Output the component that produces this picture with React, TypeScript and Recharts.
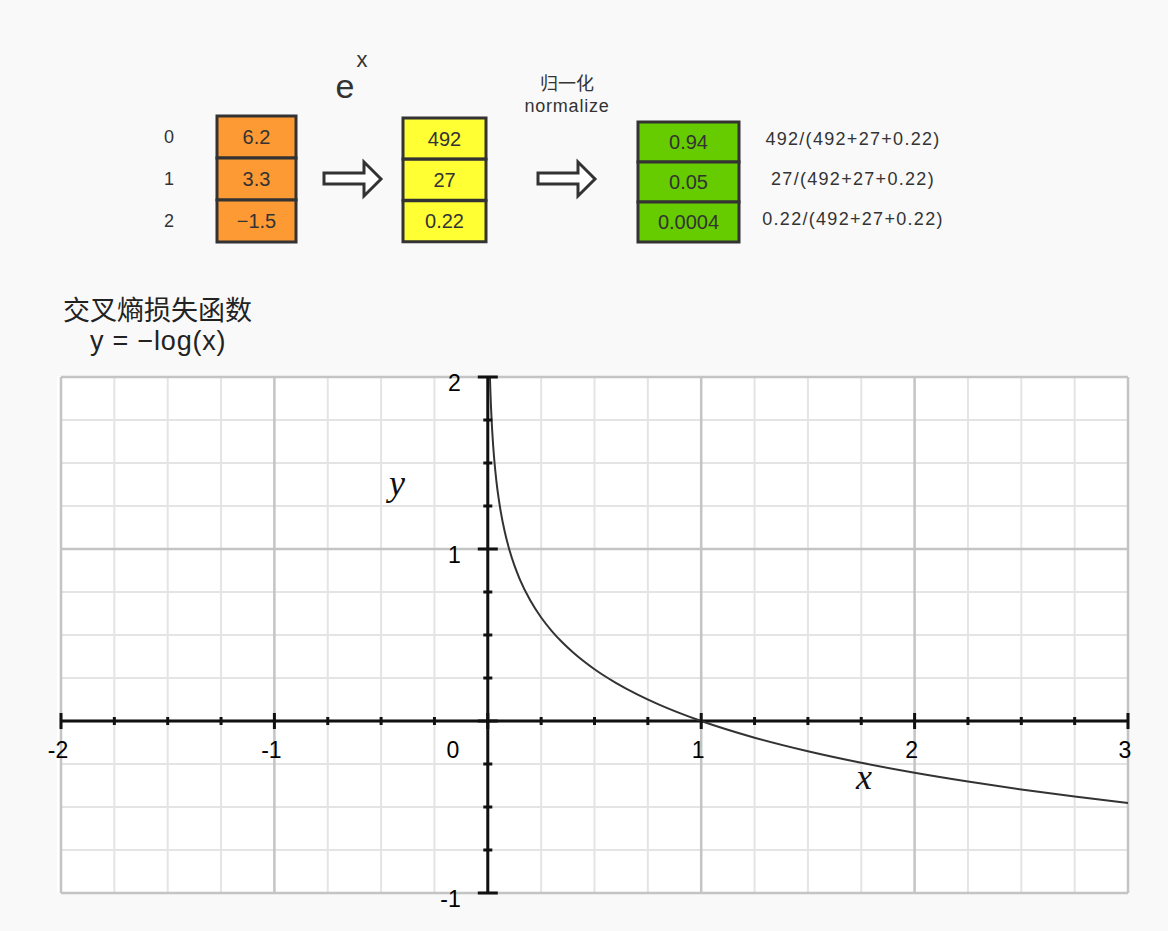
import type { CSSProperties } from "react";
import {
  BarChart,
  Bar,
  XAxis,
  YAxis,
  LabelList,
  ComposedChart,
  Line,
  Scatter,
  ReferenceLine,
} from "recharts";

// softmax illustration
const rowNames = ["0", "1", "2"];
const logits = ["6.2", "3.3", "−1.5"];
const exps = ["492", "27", "0.22"];
const probs = ["0.94", "0.05", "0.0004"];
const formulas = ["492/(492+27+0.22)", "27/(492+27+0.22)", "0.22/(492+27+0.22)"];

// y = -log(x)
const curveX = [0.01, 0.012, 0.015, 0.02, 0.025, 0.03, 0.04, 0.05, 0.06, 0.08, 0.1, 0.125, 0.15, 0.2, 0.25, 0.3, 0.35, 0.4, 0.5, 0.6, 0.7, 0.8, 0.9, 1, 1.25, 1.5, 1.75, 2, 2.25, 2.5, 2.75, 3];
const curveY = [2, 1.921, 1.824, 1.699, 1.602, 1.523, 1.398, 1.301, 1.222, 1.097, 1, 0.903, 0.824, 0.699, 0.602, 0.523, 0.456, 0.398, 0.301, 0.222, 0.155, 0.097, 0.046, 0, -0.097, -0.176, -0.243, -0.301, -0.352, -0.398, -0.439, -0.477];

const gridX = [-2, -1.75, -1.5, -1.25, -1, -0.75, -0.5, -0.25, 0, 0.25, 0.5, 0.75, 1, 1.25, 1.5, 1.75, 2, 2.25, 2.5, 2.75, 3];
const gridY = [-1, -0.75, -0.5, -0.25, 0, 0.25, 0.5, 0.75, 1, 1.25, 1.5, 1.75, 2];
const xTickLabels = ["-2", "-1", "0", "1", "2", "3"];
const xTickValues = [-2, -1, 0, 1, 2, 3];
const yTickLabels = ["2", "1", "-1"];
const yTickValues = [2, 1, -1];

const SANS = '"Liberation Sans", Arial, sans-serif';
const CJK = '"Noto Sans CJK SC", "Noto Sans", sans-serif';
const SERIF = '"Liberation Serif", "DejaVu Serif", serif';

const isMajor = (v: number) => Number.isInteger(v);

function Txt({ x, y, size, children, style }: { x: number; y: number; size: number; children: string; style?: CSSProperties }) {
  return (
    <div
      style={{
        position: "absolute",
        left: x,
        top: y,
        transform: "translate(-50%, -50%)",
        fontSize: size,
        lineHeight: 1,
        whiteSpace: "nowrap",
        color: "#333",
        fontFamily: SANS,
        ...style,
      }}
    >
      {children}
    </div>
  );
}

type ColumnProps = {
  left: number;
  top: number;
  w: number;
  h: number;
  fill: string;
  values: string[];
  names?: string[];
  notes?: string[];
};

function CellColumn({ left, top, w, h, fill, values, names, notes }: ColumnProps) {
  const pad = 3;
  const leftW = names ? 60 : 0;
  const rightW = notes ? 230 : 0;
  const data = values.map((v, i) => ({ row: String(i), one: 1, text: v }));
  const chartLeft = left - pad - leftW;
  return (
    <div style={{ position: "absolute", left: chartLeft, top: top - pad }}>
      <BarChart
        layout="vertical"
        width={w + 2 * pad + leftW + rightW}
        height={h + 2 * pad}
        data={data}
        margin={{ top: pad, bottom: pad, left: pad, right: pad }}
        barCategoryGap={0}
      >
        <XAxis type="number" domain={[0, 1]} hide />
        <YAxis
          yAxisId="l"
          type="category"
          dataKey="row"
          hide={!names}
          width={leftW}
          axisLine={false}
          tickLine={false}
          tick={(p: any) => (
            <text x={169 - chartLeft} y={p.y + 1} textAnchor="middle" dominantBaseline="middle" fontSize={18} fill="#333" fontFamily={SANS}>
              {names ? names[p.index] : ""}
            </text>
          )}
        />
        <YAxis
          yAxisId="r"
          orientation="right"
          type="category"
          dataKey="row"
          hide={!notes}
          width={rightW}
          axisLine={false}
          tickLine={false}
          tick={(p: any) => (
            <text x={853 - chartLeft} y={p.y - 2} textAnchor="middle" dominantBaseline="middle" fontSize={18} letterSpacing={1.3} fill="#333" fontFamily={SANS}>
              {notes ? notes[p.index] : ""}
            </text>
          )}
        />
        <Bar yAxisId="l" dataKey="one" fill={fill} stroke="#333" strokeWidth={3} isAnimationActive={false}>
          <LabelList dataKey="text" position="center" fill="#333" fontSize={20} fontFamily={SANS} />
        </Bar>
      </BarChart>
    </div>
  );
}

function Arrow({ x }: { x: number }) {
  return (
    <svg style={{ position: "absolute", left: x, top: 158 }} width={64} height={42}>
      <polygon
        points="2,15 42,15 42,4 59,21 42,38 42,26 2,26"
        fill="#fff"
        stroke="#333"
        strokeWidth={3}
        strokeLinejoin="miter"
      />
    </svg>
  );
}

const curveData = curveX.map((x, i) => ({ x, y: curveY[i] }));
const xTickData = gridX.map((x) => ({ x, y: 0 }));
const yTickData = gridY.map((y) => ({ x: 0, y }));
const xLabelData = xTickValues.map((x, i) => ({ x, y: 0, label: xTickLabels[i] }));
const yLabelData = yTickValues.map((y, i) => ({ x: 0, y, label: yTickLabels[i] }));

function LossChart() {
  return (
    <div style={{ position: "absolute", left: 57, top: 376, width: 1072, height: 517, background: "#fff" }}>
      <ComposedChart width={1072} height={517} margin={{ top: 1, right: 1, left: 4, bottom: 0 }}>
        <XAxis type="number" dataKey="x" domain={[-2, 3]} hide />
        <YAxis type="number" dataKey="y" domain={[-1, 2]} hide />
        {gridX.filter((v) => !isMajor(v)).map((v) => (
          <ReferenceLine key={`gx${v}`} x={v} stroke="#e4e4e4" strokeWidth={2} />
        ))}
        {gridY.filter((v) => !isMajor(v)).map((v) => (
          <ReferenceLine key={`gy${v}`} y={v} stroke="#e4e4e4" strokeWidth={2} />
        ))}
        {gridX.filter((v) => isMajor(v)).map((v) => (
          <ReferenceLine key={`mx${v}`} x={v} stroke="#c4c4c4" strokeWidth={2.5} />
        ))}
        {gridY.filter((v) => isMajor(v)).map((v) => (
          <ReferenceLine key={`my${v}`} y={v} stroke="#c4c4c4" strokeWidth={2.5} />
        ))}
        <ReferenceLine y={0} stroke="#111" strokeWidth={3} />
        <ReferenceLine x={0} stroke="#111" strokeWidth={3} />
        <Scatter
          data={xTickData}
          isAnimationActive={false}
          shape={(p: any) => {
            const len = isMajor(p.payload.x) ? 8 : 4;
            return <line x1={p.cx} x2={p.cx} y1={p.cy - len} y2={p.cy + len} stroke="#111" strokeWidth={3} />;
          }}
        />
        <Scatter
          data={yTickData}
          isAnimationActive={false}
          shape={(p: any) => {
            const len = isMajor(p.payload.y) ? 10 : 4.5;
            return <line x1={p.cx - len} x2={p.cx + len} y1={p.cy} y2={p.cy} stroke="#111" strokeWidth={3} />;
          }}
        />
        <Scatter
          data={xLabelData}
          isAnimationActive={false}
          shape={(p: any) => (
            <text
              x={p.payload.x === 0 ? p.cx - 35 : p.cx - 3}
              y={p.cy + 37}
              textAnchor="middle"
              fontSize={23}
              fill="#000"
              fontFamily={SANS}
            >
              {p.payload.label}
            </text>
          )}
        />
        <Scatter
          data={yLabelData}
          isAnimationActive={false}
          shape={(p: any) => (
            <text x={p.cx - 27} y={p.cy + 14} textAnchor="end" fontSize={23} fill="#000" fontFamily={SANS}>
              {p.payload.label}
            </text>
          )}
        />
        <Line
          data={curveData}
          dataKey="y"
          type="monotone"
          stroke="#333"
          strokeWidth={2}
          dot={false}
          isAnimationActive={false}
        />
      </ComposedChart>
    </div>
  );
}

export default function App() {
  return (
    <div style={{ position: "absolute", left: 0, top: 0, width: 1168, height: 931, background: "#f9f9f9", overflow: "hidden" }}>
      <style>{`.recharts-wrapper, .recharts-surface { overflow: visible !important; }`}</style>
      <Txt x={345} y={86} size={34}>e</Txt>
      <Txt x={362} y={60} size={22}>x</Txt>
      <Txt x={567} y={82} size={18} style={{ fontFamily: CJK }}>归一化</Txt>
      <Txt x={567} y={106} size={18} style={{ letterSpacing: 0.8 }}>normalize</Txt>

      <CellColumn left={217} top={116} w={79} h={126} fill="#fd9a33" values={logits} names={rowNames} />
      <Arrow x={322} />
      <CellColumn left={403} top={118} w={83} h={124} fill="#ffff33" values={exps} />
      <Arrow x={536} />
      <CellColumn left={638} top={122} w={101} h={120} fill="#66cc00" values={probs} notes={formulas} />

      <div style={{ position: "absolute", left: 63, top: 293, fontSize: 27, lineHeight: 1.15, color: "#222", fontFamily: CJK, whiteSpace: "nowrap" }}>
        交叉熵损失函数
      </div>
      <div style={{ position: "absolute", left: 90, top: 326, fontSize: 27, letterSpacing: 0.8, lineHeight: 1.15, color: "#222", fontFamily: SANS, whiteSpace: "nowrap" }}>
        y = −log(x)
      </div>

      <LossChart />

      <div style={{ position: "absolute", left: 389, top: 465, fontSize: 36, lineHeight: 1, fontStyle: "italic", fontFamily: SERIF, color: "#111" }}>y</div>
      <div style={{ position: "absolute", left: 856, top: 759, fontSize: 36, lineHeight: 1, fontStyle: "italic", fontFamily: SERIF, color: "#111" }}>x</div>
    </div>
  );
}
